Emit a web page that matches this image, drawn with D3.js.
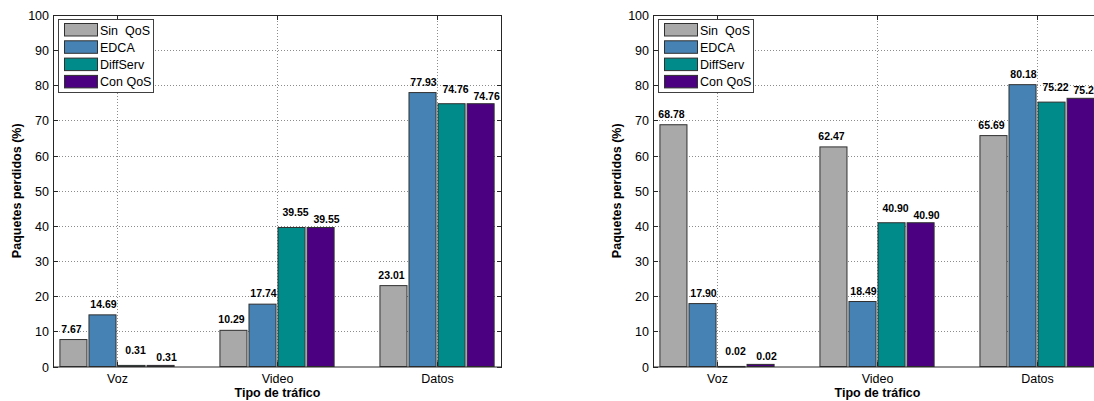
<!DOCTYPE html>
<html>
<head>
<meta charset="utf-8">
<script src="https://cdn.jsdelivr.net/npm/d3@7"></script>
<style>
  body { margin: 0; background: white; }
  svg { display: block; font-family: "Liberation Sans", Arial, sans-serif; }
</style>
</head>
<body>
<div id="chart-container"></div>
<script>
// categories and series
var categories = ['Voz', 'Video', 'Datos']
var series = ['Sin  QoS', 'EDCA', 'DiffServ', 'Con QoS']
var colours = ['#a9a9a9', '#4682b4', '#008b8b', '#4b0082']
var yTicks = [0, 10, 20, 30, 40, 50, 60, 70, 80, 90, 100]

// left panel: bar heights (one row per series) and printed labels
var leftValues = [
  [7.67, 10.29, 23.01],
  [14.69, 17.74, 77.93],
  [0.31, 39.55, 74.76],
  [0.31, 39.55, 74.76]
]
var leftLabels = [
  ['7.67', '10.29', '23.01'],
  ['14.69', '17.74', '77.93'],
  ['0.31', '39.55', '74.76'],
  ['0.31', '39.55', '74.76']
]

// right panel
var rightValues = [
  [68.78, 62.47, 65.69],
  [17.90, 18.49, 80.18],
  [0.02, 40.90, 75.22],
  [0.6, 40.90, 76.3]
]
var rightLabels = [
  ['68.78', '62.47', '65.69'],
  ['17.90', '18.49', '80.18'],
  ['0.02', '40.90', '75.22'],
  ['0.02', '40.90', '75.22']
]

var W = 1094, H = 401

var svg = d3.select('#chart-container')
  .append('svg')
  .attr('width', W)
  .attr('height', H)

function drawPanel(offsetX, values, labels) {

  var left = 53, right = 502, top = 15, bottom = 366.5
  var g = svg.append('g').attr('transform', 'translate(' + offsetX + ',0)')

  var x = d3.scaleLinear().domain([0.6, 3.406]).range([left, right])
  var y = d3.scaleLinear().domain([0, 100]).range([bottom, top])

  var pitch = 0.1815, barW = 0.169
  var labelDx = [-2, 1, 4, 6]
  var labelDy = [11, 11, 15, 8]
  var frameCol = '#262626'

  // grid
  g.append('g').selectAll('line.hgrid')
    .data(yTicks.slice(1, -1))
    .enter().append('line')
      .attr('x1', left).attr('x2', right)
      .attr('y1', function(d){ return Math.round(y(d)) + 0.5 })
      .attr('y2', function(d){ return Math.round(y(d)) + 0.5 })
      .style('stroke', '#8c8c8c')
      .style('stroke-width', 1)
      .style('stroke-dasharray', '1,2')

  g.append('g').selectAll('line.vgrid')
    .data(categories)
    .enter().append('line')
      .attr('x1', function(d, i){ return Math.round(x(i + 1)) + 0.5 })
      .attr('x2', function(d, i){ return Math.round(x(i + 1)) + 0.5 })
      .attr('y1', top).attr('y2', bottom)
      .style('stroke', '#8c8c8c')
      .style('stroke-width', 1)
      .style('stroke-dasharray', '1,2')

  // bars
  values.forEach(function(row, s){
    g.append('g').selectAll('rect')
      .data(row)
      .enter().append('rect')
        .attr('x', function(d, i){ return x(i + 1 + (s - 1.5) * pitch - barW / 2) })
        .attr('width', x(0.6 + barW) - x(0.6))
        .attr('y', function(d){ return y(d) })
        .attr('height', function(d){ return Math.max(0.5, bottom - y(d)) })
        .style('fill', colours[s])
        .style('stroke', '#303030')
        .style('stroke-width', 1)

    g.append('g').selectAll('text')
      .data(row)
      .enter().append('text')
        .attr('x', function(d, i){ return x(i + 1 + (s - 1.5) * pitch) + labelDx[s] })
        .attr('y', function(d){ return y(d) - labelDy[s] + 4 })
        .attr('text-anchor', 'middle')
        .style('font-size', '10.5px')
        .style('font-weight', 'bold')
        .text(function(d, i){ return labels[s][i] })
  })

  // frame
  g.append('rect')
    .attr('x', left + 0.5).attr('y', top + 0.5)
    .attr('width', right - left - 1).attr('height', bottom - top)
    .style('fill', 'none')
    .style('stroke', frameCol)
    .style('stroke-width', 1)

  // y ticks, inside on both sides
  yTicks.forEach(function(t){
    var yy = Math.round(y(t)) + 0.5
    g.append('line').attr('x1', left).attr('x2', left + 5).attr('y1', yy).attr('y2', yy)
      .style('stroke', frameCol)
    g.append('line').attr('x1', right - 5).attr('x2', right).attr('y1', yy).attr('y2', yy)
      .style('stroke', frameCol)
    g.append('text')
      .attr('x', left - 4)
      .attr('y', yy + 4.5)
      .attr('text-anchor', 'end')
      .style('font-size', '12.5px')
      .text(t)
  })

  // x ticks
  categories.forEach(function(c, i){
    var xx = Math.round(x(i + 1)) + 0.5
    g.append('line').attr('x1', xx).attr('x2', xx).attr('y1', bottom).attr('y2', bottom - 5)
      .style('stroke', frameCol)
    g.append('line').attr('x1', xx).attr('x2', xx).attr('y1', top).attr('y2', top + 5)
      .style('stroke', frameCol)
    g.append('text')
      .attr('x', xx)
      .attr('y', bottom + 16)
      .attr('text-anchor', 'middle')
      .style('font-size', '12.5px')
      .text(c)
  })

  // axis titles
  g.append('text')
    .attr('x', (left + right) / 2)
    .attr('y', 397)
    .attr('text-anchor', 'middle')
    .style('font-size', '12.5px')
    .style('font-weight', 'bold')
    .text('Tipo de tráfico')

  g.append('text')
    .attr('transform', 'translate(21,' + (top + bottom) / 2 + ') rotate(-90)')
    .attr('text-anchor', 'middle')
    .style('font-size', '12.5px')
    .style('font-weight', 'bold')
    .text('Paquetes perdidos (%)')

  // legend
  var legend = g.append('g').attr('class', 'legend')
  legend.append('rect')
    .attr('x', left + 5.5).attr('y', 19.5)
    .attr('width', 95).attr('height', 73)
    .style('fill', 'white')
    .style('stroke', '#404040')

  series.forEach(function(name, i){
    var ly = 23 + i * 17.3
    legend.append('rect')
      .attr('x', left + 11.5).attr('y', ly + 0.5)
      .attr('width', 33).attr('height', 12.5)
      .style('fill', colours[i])
      .style('stroke', '#303030')
    legend.append('text')
      .attr('x', left + 47)
      .attr('y', ly + 11.5)
      .style('font-size', '12.5px')
      .style('white-space', 'pre')
      .text(name)
  })
}

drawPanel(0, leftValues, leftLabels)
drawPanel(600, rightValues, rightLabels)
</script>
</body>
</html>
